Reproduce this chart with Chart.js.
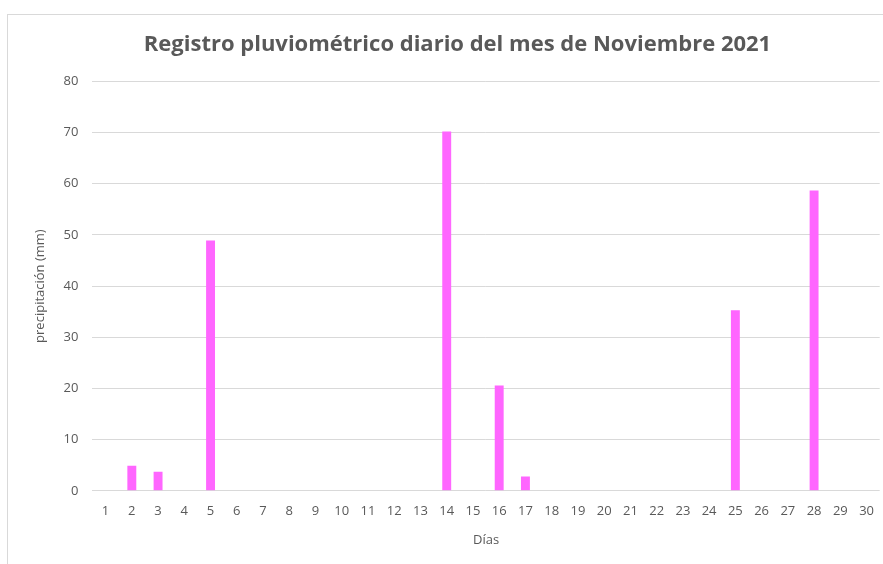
<!DOCTYPE html>
<html>
<head>
<meta charset="utf-8">
<script src="https://cdn.jsdelivr.net/npm/chart.js@4"></script>
<style>
  html, body { margin: 0; background: #fff; overflow: hidden; }
  #frame { position: absolute; left: 7px; top: 14px; width: 900px; height: 600px; border: 1px solid #d9d9d9; }
  #wrap { position: absolute; left: 0; top: 0; width: 887px; height: 564px; }
</style>
</head>
<body>
<div id="frame"></div>
<div id="wrap"><canvas id="myChart"></canvas></div>
<script>
// Datos del registro
const dias = ["1","2","3","4","5","6","7","8","9","10","11","12","13","14","15","16","17","18","19","20","21","22","23","24","25","26","27","28","29","30"];
const precipitacion = [0, 4.9, 3.7, 0, 48.9, 0, 0, 0, 0, 0, 0, 0, 0, 70.2, 0, 20.6, 2.8, 0, 0, 0, 0, 0, 0, 0, 35.3, 0, 0, 58.7, 0, 0];
const titulo = "Registro pluviométrico diario del mes de Noviembre 2021";

const gris = "#595959";
const config = {
    type: "bar",
    data: {
        labels: dias,
        datasets: [{
            label: "precipitación",
            data: precipitacion,
            backgroundColor: "#ff66ff",
            borderWidth: 0,
            barPercentage: 0.5,
            categoryPercentage: 0.68
        }]
    },
    options: {
        responsive: true,
        maintainAspectRatio: false,
        animation: false,
        layout: { padding: { left: 28, right: 0, top: 32, bottom: 12 } },
        plugins: {
            legend: { display: false },
            tooltip: { enabled: false },
            title: {
                display: true,
                text: titulo,
                color: gris,
                font: { family: "Open Sans", size: 22, weight: "bold" },
                padding: { top: 0, bottom: 23 }
            }
        },
        scales: {
            x: {
                grid: { display: false, drawTicks: false },
                border: { display: false },
                ticks: { color: gris, font: { family: "Open Sans", size: 13 }, padding: 13, maxRotation: 0, autoSkip: false },
                title: { display: true, text: "Días", color: gris, font: { family: "Open Sans", size: 13 }, padding: { top: 0 } }
            },
            y: {
                min: 0,
                max: 80,
                ticks: { stepSize: 10, color: gris, font: { family: "Open Sans", size: 13 }, padding: 14 },
                grid: { color: "#d9d9d9", drawTicks: false },
                border: { display: false },
                title: { display: true, text: "precipitación (mm)", color: gris, font: { family: "Open Sans", size: 13 }, padding: { bottom: 2 } }
            }
        }
    }
};
const myChart = new Chart(document.getElementById("myChart"), config);
</script>
</body>
</html>
